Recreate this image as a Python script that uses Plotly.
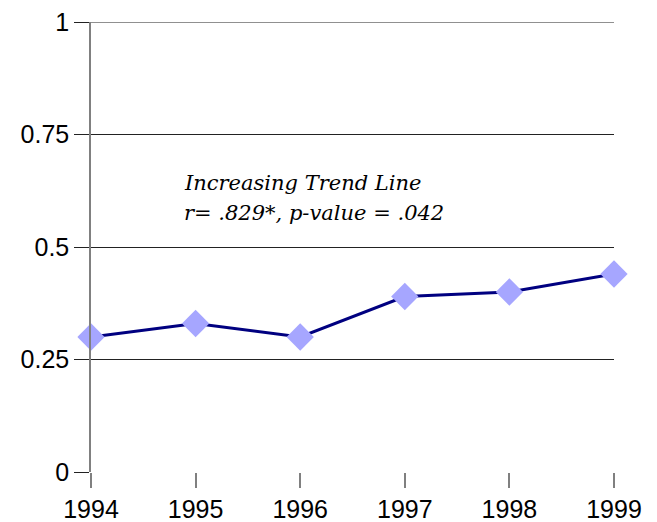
import plotly.graph_objects as go

years = [1994, 1995, 1996, 1997, 1998, 1999]
values = [0.30, 0.33, 0.30, 0.39, 0.40, 0.44]
y_ticks = [0, 0.25, 0.5, 0.75, 1]
y_tick_labels = ["0", "0.25", "0.5", "0.75", "1"]
note_lines = ["Increasing Trend Line", "r= .829*, p-value = .042"]

fig = go.Figure()
fig.add_trace(go.Scatter(
    x=years, y=values, mode="lines+markers",
    line=dict(color="#000080", width=3),
    marker=dict(symbol="diamond", size=21, color="#a6a6ff", line=dict(width=0)),
    cliponaxis=False, showlegend=False,
))

for i, line in enumerate(note_lines):
    fig.add_annotation(
        xref="paper", yref="paper", x=0.174, y=0.642 - i * 0.066,
        xanchor="left", yanchor="middle",
        text="<i>" + line + "</i>",
        showarrow=False, align="left",
        font=dict(family="DejaVu Serif, Liberation Serif, serif", size=21, color="black"),
    )

# top gridline (plotly omits the gridline at the range edge)
fig.add_shape(type="line", xref="paper", yref="y", x0=0, x1=1,
              y0=y_ticks[-1], y1=y_ticks[-1],
              line=dict(color="#222222", width=1), layer="below")

fig.update_layout(
    width=649, height=514,
    margin=dict(l=83, r=43, t=14, b=50, autoexpand=False),
    paper_bgcolor="white", plot_bgcolor="white",
    font=dict(family="Liberation Sans, Arial, sans-serif", size=25, color="black"),
    xaxis=dict(
        range=[1994, 1999], tickvals=years, ticktext=[str(y) for y in years],
        showgrid=False, zeroline=False, showline=False, automargin=False,
        ticks="outside", ticklen=15, tickcolor="#808080", tickwidth=1.5,
        tickfont=dict(size=25), ticklabeloverflow="allow",
    ),
    yaxis=dict(
        range=[0, 1], tickvals=y_ticks, ticktext=y_tick_labels,
        showgrid=True, gridcolor="#222222", gridwidth=1, zeroline=False,
        showline=True, linecolor="#808080", linewidth=1.5, automargin=False,
        ticks="outside", ticklen=15, tickcolor="#222222", tickwidth=1,
        tickfont=dict(size=25), ticklabeloverflow="allow",
    ),
)

fig.write_html("out.html")
